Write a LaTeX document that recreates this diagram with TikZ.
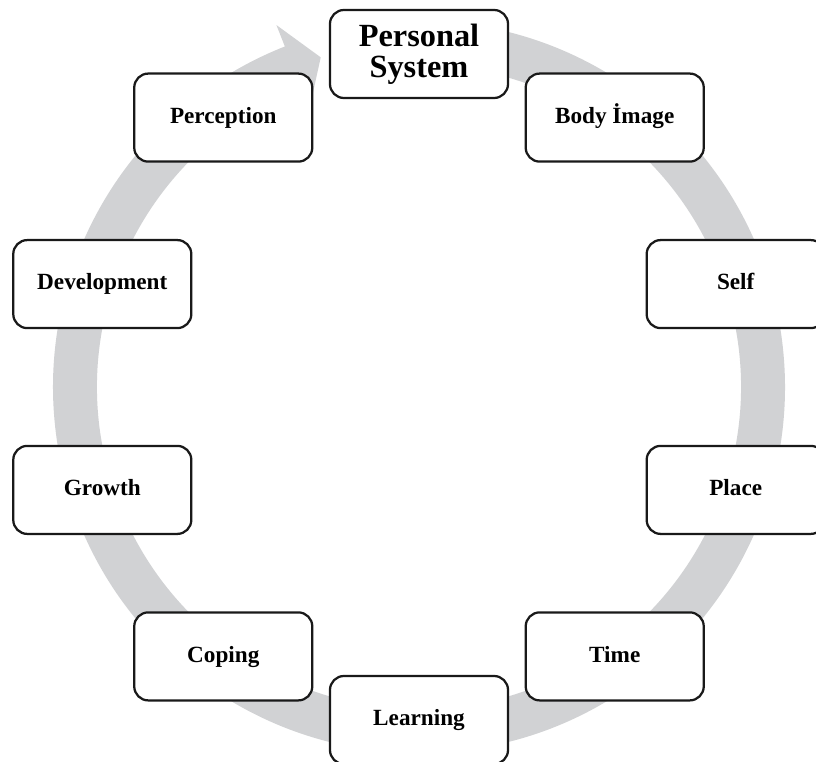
\documentclass[tikz,border=0pt]{standalone}
\usepackage{fontspec}
\setmainfont{Liberation Serif}
\usepackage{tikz}
\usetikzlibrary{positioning}
\definecolor{ringgray}{RGB}{209,210,212}
\tikzset{
  every picture/.style = {
    x=0.025cm, y=0.025cm
  },
  conceptbox/.style={
    draw=black!90,
    fill=white,
    line width=1.6pt,
    rounded corners=0.35cm,
    minimum width=4.45cm,
    minimum height=2.2cm,
    text height=11.5pt,
    text depth=3.5pt,
    align=center,
    font=\bfseries\fontsize{16.5}{19}\selectfont
  },
  headbox/.style={
    conceptbox,
    text height=,
    text depth=,
    font=\bfseries\fontsize{23}{22}\selectfont
  }
}
\begin{document}
\begin{tikzpicture}
    \clip (-419,-375) rectangle (397,387);
    \fill[white] (-419,-375) rectangle (397,387);
    % grey cycle arrow
    \fill[ringgray] (95:366) arc[start angle=95, end angle=-248.5, radius=366]
        -- (111.5:389) -- (106.6:344) -- (111.5:299) -- (111.5:322)
        arc[start angle=-248.5, end angle=95, radius=322] -- cycle;
    % boxes
    \node[headbox] (personal) at (90:333) {Personal\\System};
    \node[conceptbox] (body) at (54:333) {Body İmage};
    \node[conceptbox] (self) at (18:333) {Self};
    \node[conceptbox] (place) at (-18:333) {Place};
    \node[conceptbox] (time) at (-54:333) {Time};
    \node[conceptbox] (learning) at (-90:333) {Learning};
    \node[conceptbox] (coping) at (-126:333) {Coping};
    \node[conceptbox] (growth) at (-162:333) {Growth};
    \node[conceptbox] (development) at (162:333) {Development};
    \node[conceptbox] (perception) at (126:333) {Perception};
\end{tikzpicture}
\end{document}
